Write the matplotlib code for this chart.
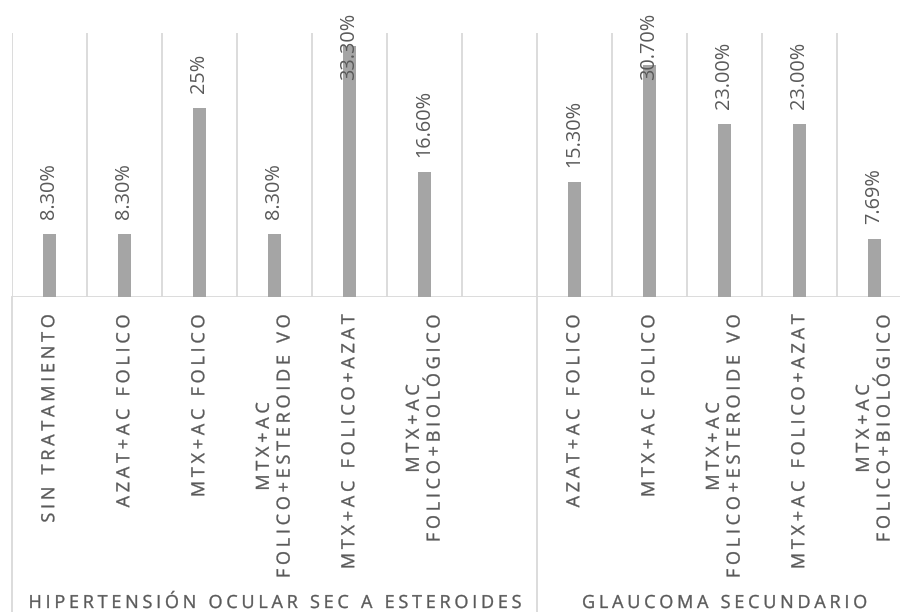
import numpy as np
import matplotlib
matplotlib.use("Agg")
import matplotlib.pyplot as plt
from matplotlib.path import Path
from matplotlib.patheffects import AbstractPathEffect
from matplotlib.transforms import blended_transform_factory

plt.rcParams['font.family'] = ['Open Sans', 'DejaVu Sans']

# --- Datos del gráfico ---
grupos = ["HIPERTENSIÓN OCULAR SEC A ESTEROIDES", "GLAUCOMA SECUNDARIO"]

# Hipertensión ocular (la última casilla queda vacía, como en el original)
cat_hipert = ["SIN TRATAMIENTO", "AZAT+AC FOLICO", "MTX+AC FOLICO",
              "MTX+AC\nFOLICO+ESTEROIDE VO", "MTX+AC FOLICO+AZAT",
              "MTX+AC\nFOLICO+BIOLÓGICO", ""]
val_hipert = [8.3, 8.3, 25.0, 8.3, 33.3, 16.6, np.nan]
etq_hipert = ["8.30%", "8.30%", "25%", "8.30%", "33.30%", "16.60%", ""]

# Glaucoma secundario
cat_glauc = ["AZAT+AC FOLICO", "MTX+AC FOLICO", "MTX+AC\nFOLICO+ESTEROIDE VO",
             "MTX+AC FOLICO+AZAT", "MTX+AC\nFOLICO+BIOLÓGICO"]
val_glauc = [15.3, 30.7, 23.0, 23.0, 7.69]
etq_glauc = ["15.30%", "30.70%", "23.00%", "23.00%", "7.69%"]

# --- Estilo ---
GRIS_BARRA = '#A5A5A5'
GRIS_LINEA = '#D9D9D9'
GRIS_TEXTO = '#595959'
ESPACIADO = 3.75     # espaciado entre letras (px), imita el "tracking" de Excel
TRAZO = 0.25         # trazo fino para dar algo más de cuerpo al texto (pt)
FIG_W, FIG_H = 900, 612


class Espaciado(AbstractPathEffect):
    """Separa los glifos de un texto una cantidad fija de píxeles."""

    def __init__(self, px, trazo=0.0):
        super().__init__()
        self.px = px
        self.trazo = trazo

    def draw_path(self, renderer, gc, tpath, affine, rgbFace=None):
        codes = tpath.codes
        if codes is None or len(tpath.vertices) == 0:
            renderer.draw_path(gc, tpath, affine, rgbFace)
            return
        verts = tpath.vertices.copy()
        escala = np.hypot(*affine.get_matrix()[:2, 0])
        paso = self.px / escala

        # trozos de trazado (cada MOVETO abre uno)
        inicios = list(np.where(codes == Path.MOVETO)[0]) + [len(verts)]
        trozos = []
        for a, b in zip(inicios[:-1], inicios[1:]):
            xs = verts[a:b, 0]
            trozos.append((xs.min(), xs.max(), a, b))
        trozos.sort()

        # agrupa los trozos que pertenecen al mismo glifo (contornos internos, acentos)
        glifos = []
        for x0, x1, a, b in trozos:
            if glifos:
                g = glifos[-1]
                solape = min(x1, g[1]) - max(x0, g[0])
                if solape > 0.5 * max(x1 - x0, 1e-6):
                    g[1] = max(g[1], x1)
                    g[2].append((a, b))
                    continue
            glifos.append([x0, x1, [(a, b)]])

        # índice de cada glifo, contando los espacios (huecos grandes)
        indices = []
        idx = 0
        for k, g in enumerate(glifos):
            if k > 0 and g[0] - glifos[k - 1][1] > 25:
                idx += 1
            indices.append(idx)
            idx += 1
        n = indices[-1] if indices else 0
        for g, i in zip(glifos, indices):
            for a, b in g[2]:
                verts[a:b, 0] += paso * (i - n / 2)

        gc0 = renderer.new_gc()
        gc0.copy_properties(gc)
        if self.trazo > 0 and rgbFace is not None:
            gc0.set_linewidth(self.trazo)
            gc0.set_foreground(rgbFace)
        renderer.draw_path(gc0, Path(verts, codes), affine, rgbFace)
        gc0.restore()


# --- Figura ---
categorias = cat_hipert + cat_glauc
valores = np.array(val_hipert + val_glauc, dtype=float)
etiquetas = etq_hipert + etq_glauc
x = np.arange(len(categorias))

fig = plt.figure(figsize=(FIG_W / 100, FIG_H / 100), dpi=100)
# el área de trazado sobresale un poco por la derecha, como en el original
ax = fig.add_axes([11.7 / FIG_W, 315 / FIG_H, 900 / FIG_W, 264 / FIG_H])
ax.set_xlim(-0.5, len(categorias) - 0.5)
ax.set_ylim(0, 35)
ax.axis('off')

ok = ~np.isnan(valores)
ax.bar(x[ok], valores[ok], width=0.173, color=GRIS_BARRA, zorder=2)

# líneas de división verticales y eje horizontal
ax.vlines(np.arange(len(categorias) + 1) - 0.5, 0, 35, color=GRIS_LINEA, lw=1.3, zorder=1)
ax.axhline(0, color=GRIS_LINEA, lw=1.3, zorder=1)

# separadores de grupo que bajan hasta el borde
tr_xfig = blended_transform_factory(ax.transData, fig.transFigure)
for xb in [-0.5, len(cat_hipert) - 0.5]:
    ax.plot([xb, xb], [0, 315 / FIG_H], color=GRIS_LINEA, lw=1.3,
            transform=tr_xfig, clip_on=False)

# etiquetas de datos
anotaciones = []
for xi, v, e in zip(x, valores, etiquetas):
    if np.isnan(v):
        continue
    an = ax.annotate(e, (xi, v), xytext=(0, 15 * 0.72), textcoords='offset points',
                     rotation=90, ha='center', va='bottom', fontsize=14.3,
                     color=GRIS_TEXTO, annotation_clip=False, zorder=3)
    anotaciones.append(an)

# etiquetas de categoría
textos_cat = []
for xi, c in zip(x, categorias):
    if not c:
        continue
    t = ax.text(xi, 0.3, c, transform=tr_xfig, rotation=90, ha='center',
                va='center', multialignment='center', fontsize=13,
                color=GRIS_TEXTO, path_effects=[Espaciado(ESPACIADO, TRAZO)])
    textos_cat.append((t, max(c.split('\n'), key=len)))

# nombres de grupo
centros = [(len(cat_hipert) - 1) / 2, len(cat_hipert) + (len(cat_glauc) - 1) / 2]
for xc, g in zip(centros, grupos):
    ax.text(xc, 4 / FIG_H, g, transform=tr_xfig, ha='center', va='baseline',
            fontsize=13, color=GRIS_TEXTO, path_effects=[Espaciado(ESPACIADO, TRAZO)])

# --- Ajuste de posiciones una vez medidos los textos ---
fig.canvas.draw()
rend = fig.canvas.get_renderer()

tope_cat = FIG_H - 315   # borde superior de las etiquetas de categoría (px)
for t, linea in textos_cat:
    bb = t.get_window_extent(rend)
    largo = bb.height + ESPACIADO * (len(linea) - 1)
    t.set_y((tope_cat - largo / 2) / FIG_H)

tope_fig = FIG_H - 13    # las etiquetas no pasan de aquí
for an in anotaciones:
    bb = an.get_window_extent(rend)
    if bb.y1 > tope_fig:
        base_barra = ax.transData.transform(an.xy)[1]
        an.xyann = (0, (tope_fig - bb.height - base_barra) * 0.72)

fig.savefig('out.png', dpi=100)
